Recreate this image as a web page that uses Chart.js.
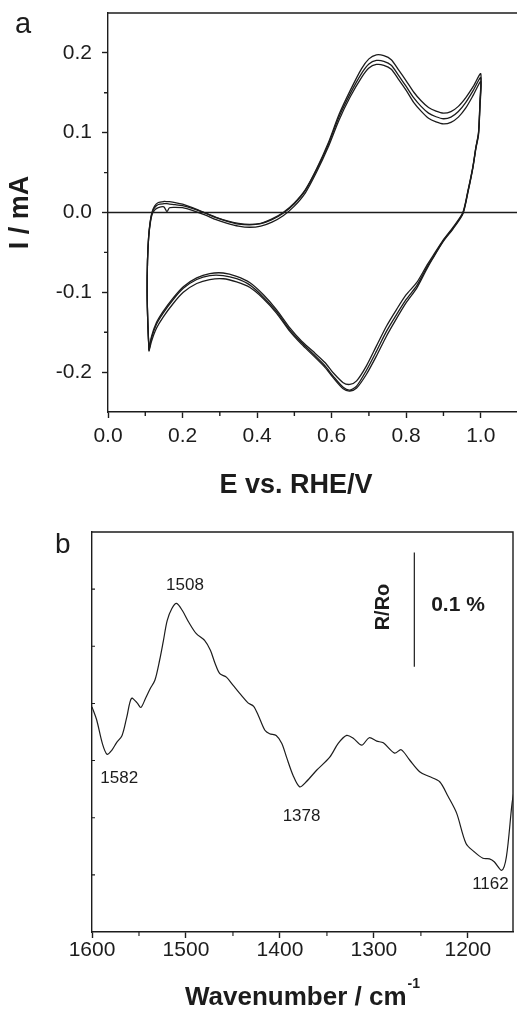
<!DOCTYPE html>
<html><head><meta charset="utf-8">
<script src="https://cdn.jsdelivr.net/npm/chart.js@4.4.1/dist/chart.umd.min.js"></script>
<style>
html,body{margin:0;padding:0;background:#fff;overflow:hidden;width:517px;height:1011px;}
#cv{position:absolute;left:0;top:0;}
#ir{position:absolute;left:0;top:500px;}
</style></head><body>
<canvas id="cv" width="518" height="500"></canvas>
<canvas id="ir" width="517" height="511"></canvas>
<script>
// ---------- (a) cyclic voltammogram: potential program shared by the three cycles ----------
const cvPotential = [
  0.110,0.107,0.105,0.106,0.109,0.113,0.118,0.125,0.135,0.150,0.158,0.165,0.180,0.200,0.230,0.260,
  0.290,0.320,0.350,0.380,0.410,0.440,0.470,0.500,0.530,0.560,0.590,0.620,0.650,0.680,0.700,0.720,
  0.740,0.760,0.780,0.800,0.820,0.840,0.860,0.880,0.900,0.920,0.940,0.960,0.980,1.000,
  0.998,0.994,0.987,0.979,0.966,0.952,0.925,0.900,0.871,0.854,0.828,0.800,0.774,0.747,0.720,0.693,
  0.667,0.649,0.631,0.604,0.582,0.550,0.519,0.488,0.452,0.417,0.381,0.345,0.309,0.273,0.238,0.202,
  0.175,0.148,0.130,0.117,0.110
];
const cvCurrentCycle1 = [
  -0.172,-0.140,-0.100,-0.060,-0.030,-0.012,0.000,0.008,0.0125,0.0138,0.0137,0.0135,0.0125,0.0105,0.0055,-0.0005,
  -0.006,-0.0105,-0.0135,-0.0148,-0.0135,-0.008,0.000,0.012,0.029,0.055,0.086,0.123,0.153,0.180,0.1925,0.1975,
  0.1965,0.1915,0.1785,0.165,0.151,0.140,0.1315,0.127,0.1245,0.1265,0.133,0.144,0.158,0.174,
  0.140,0.100,0.082,0.0575,0.028,0.000,-0.019,-0.034,-0.055,-0.0675,-0.088,-0.103,-0.1216,-0.1425,-0.1675,-0.1925,
  -0.211,-0.2154,-0.2133,-0.2008,-0.188,-0.174,-0.161,-0.1446,-0.1216,-0.103,-0.088,-0.080,-0.0758,-0.0766,-0.082,-0.093,
  -0.107,-0.124,-0.138,-0.155,-0.172
];
const cvCurrentCycle2 = [
  -0.173,-0.141,-0.100,-0.060,-0.031,-0.013,-0.001,0.006,0.010,0.011,0.011,0.0105,0.0098,0.0085,0.0045,-0.0005,
  -0.0065,-0.011,-0.0145,-0.0155,-0.014,-0.009,-0.001,0.011,0.028,0.054,0.084,0.120,0.149,0.174,0.186,0.1905,
  0.1895,0.1845,0.1715,0.158,0.144,0.133,0.1245,0.120,0.1175,0.1195,0.1265,0.138,0.153,0.169,
  0.137,0.099,0.081,0.057,0.027,-0.001,-0.020,-0.035,-0.057,-0.070,-0.092,-0.109,-0.128,-0.149,-0.174,-0.198,
  -0.2175,-0.2225,-0.219,-0.205,-0.192,-0.177,-0.163,-0.147,-0.124,-0.106,-0.091,-0.083,-0.079,-0.079,-0.084,-0.095,
  -0.109,-0.126,-0.140,-0.157,-0.173
];
const cvCurrentCycle3 = [
  -0.174,-0.142,-0.101,-0.061,-0.032,-0.015,-0.003,0.003,0.006,0.007,0.001,0.006,0.0065,0.006,0.002,-0.003,
  -0.009,-0.0135,-0.017,-0.0185,-0.017,-0.012,-0.004,0.008,0.025,0.051,0.081,0.116,0.145,0.169,0.181,0.1855,
  0.1845,0.1795,0.1665,0.153,0.138,0.127,0.118,0.1135,0.111,0.113,0.1195,0.131,0.147,0.164,
  0.133,0.097,0.080,0.056,0.026,-0.002,-0.021,-0.036,-0.058,-0.072,-0.095,-0.113,-0.133,-0.155,-0.180,-0.203,
  -0.220,-0.2237,-0.221,-0.207,-0.194,-0.179,-0.165,-0.149,-0.126,-0.108,-0.094,-0.087,-0.083,-0.084,-0.089,-0.100,
  -0.114,-0.131,-0.145,-0.161,-0.174
];
const cvXTicks = [0, 0.2, 0.4, 0.6, 0.8, 1.0];
const cvXMinorTicks = [0.1, 0.3, 0.5, 0.7, 0.9];
const cvYTicks = [-0.2, -0.1, 0, 0.1, 0.2];
const cvYMinorTicks = [-0.15, -0.05, 0.05, 0.15];

// ---------- (b) IR spectrum ----------
const irWavenumber = [
  1600,1595,1589,1584,1579,1574,1568,1563,1558,1552,1548,1543,1538,1533,1528,1524,1520,1515,1510,1504,
  1497,1489,1480,1474,1469,1464,1457,1450,1441,1434,1428,1423,1416,1411,1404,1398,1393,1386,1379,1372,
  1361,1347,1338,1329,1322,1313,1305,1297,1290,1278,1271,1262,1251,1241,1230,1221,1212,1202,1193,1184,
  1177,1172,1164,1159,1153,1150
];
const irSignal = [
  3.94,3.71,3.30,3.11,3.18,3.31,3.44,3.76,4.09,4.01,3.93,4.09,4.26,4.41,4.76,5.10,5.45,5.66,5.75,5.63,
  5.42,5.22,5.10,4.93,4.70,4.52,4.46,4.32,4.14,4.01,3.95,3.79,3.53,3.47,3.44,3.30,3.06,2.74,2.54,2.63,
  2.83,3.06,3.30,3.44,3.39,3.27,3.40,3.34,3.31,3.13,3.19,3.01,2.80,2.72,2.63,2.37,2.08,1.55,1.40,1.29,
  1.28,1.23,1.08,1.32,2.25,2.55
];
const irXTicks = [1600, 1500, 1400, 1300, 1200];
const irXMinorTicks = [1550, 1450, 1350, 1250];
const irYTicks = [1, 2, 3, 4, 5, 6];
const irPeakLabels = ['1582', '1508', '1378', '1162'];
const irScaleBarLabel = '0.1 %';

// ---------- styling ----------
const INK = '#1c1c1c';
const FONT = '"Liberation Sans", Arial, Helvetica, sans-serif';
const xy = (xs, ys) => xs.map((x, i) => ({x: x, y: ys[i]}));

const cvDecor = {
  id: 'cvDecor',
  beforeDatasetsDraw(chart) {
    const {ctx, chartArea: a, scales: {y}} = chart;
    const py = y.getPixelForValue(0);
    ctx.save();
    ctx.strokeStyle = INK; ctx.lineWidth = 1.3;
    ctx.beginPath(); ctx.moveTo(a.left, py); ctx.lineTo(a.right, py); ctx.stroke();
    ctx.restore();
  },
  afterDraw(chart) {
    const {ctx, chartArea: a, scales: {x, y}} = chart;
    ctx.save();
    ctx.strokeStyle = INK; ctx.lineWidth = 1.4;
    ctx.beginPath(); ctx.moveTo(a.left, a.top); ctx.lineTo(a.right, a.top); ctx.stroke();
    ctx.beginPath();
    cvXMinorTicks.forEach(v => { const p = x.getPixelForValue(v); ctx.moveTo(p, a.bottom); ctx.lineTo(p, a.bottom + 4); });
    cvYMinorTicks.forEach(v => { const p = y.getPixelForValue(v); ctx.moveTo(a.left, p); ctx.lineTo(a.left - 4, p); });
    ctx.stroke();
    ctx.fillStyle = INK;
    ctx.font = '29px ' + FONT; ctx.textAlign = 'left'; ctx.textBaseline = 'alphabetic';
    ctx.fillText('a', 15, 33);
    ctx.font = 'bold 27px ' + FONT; ctx.textAlign = 'center';
    ctx.fillText('E vs. RHE/V', 296, 493);
    ctx.save();
    ctx.translate(21, (a.top + a.bottom) / 2); ctx.rotate(-Math.PI / 2);
    ctx.textBaseline = 'middle'; ctx.fillText('I / mA', 0, 0);
    ctx.restore();
    ctx.restore();
  }
};

const axisCommon = (size) => ({
  grid: {drawOnChartArea: false, drawTicks: true, tickLength: 6, tickColor: INK, tickWidth: 1.4},
  border: {display: true, color: INK, width: 1.4}
});

new Chart(document.getElementById('cv'), {
  type: 'scatter',
  data: {
    datasets: [cvCurrentCycle1, cvCurrentCycle2, cvCurrentCycle3].map((ys, i) => ({
      label: 'cycle ' + (i + 1), data: xy(cvPotential, ys), showLine: true,
      borderColor: INK, borderWidth: 1.3, pointRadius: 0, tension: 0.25, fill: false
    }))
  },
  options: {
    responsive: false, animation: false, devicePixelRatio: 1,
    layout: {padding: {left: 0, top: 13, right: 0, bottom: 0}},
    plugins: {legend: {display: false}, tooltip: {enabled: false}},
    scales: {
      x: Object.assign({
        type: 'linear', position: 'bottom', min: 0, max: 1.1,
        afterBuildTicks: s => { s.ticks = cvXTicks.map(v => ({value: v})); },
        afterFit: s => { s.height = 88; s.paddingLeft = 0; s.paddingRight = 0; },
        ticks: {callback: v => v.toFixed(1), padding: 6, color: INK, font: {family: FONT, size: 21}, maxRotation: 0, autoSkip: false}
      }, axisCommon()),
      y: Object.assign({
        type: 'linear', position: 'left', min: -0.25, max: 0.25,
        afterBuildTicks: s => { s.ticks = cvYTicks.map(v => ({value: v})); },
        afterFit: s => { s.width = 108; s.paddingTop = 0; s.paddingBottom = 0; },
        ticks: {callback: v => v.toFixed(1), padding: 10, color: INK, font: {family: FONT, size: 21}, autoSkip: false}
      }, axisCommon())
    }
  },
  plugins: [cvDecor]
});

const irDecor = {
  id: 'irDecor',
  afterDraw(chart) {
    const {ctx, chartArea: a, scales: {x, y}} = chart;
    ctx.save();
    ctx.strokeStyle = INK; ctx.lineWidth = 1.4;
    ctx.beginPath();
    ctx.moveTo(a.left, a.top); ctx.lineTo(a.right, a.top); ctx.lineTo(a.right, a.bottom);
    ctx.stroke();
    ctx.lineWidth = 1.1;
    ctx.beginPath();
    irXMinorTicks.forEach(v => { const p = x.getPixelForValue(v); ctx.moveTo(p, a.bottom); ctx.lineTo(p, a.bottom + 4); });
    irYTicks.forEach(v => { const p = y.getPixelForValue(v); ctx.moveTo(a.left, p); ctx.lineTo(a.left + 3, p); });
    ctx.stroke();
    // scale bar: 0.1 % = 2 units of the signal axis
    ctx.lineWidth = 1.2;
    const bx = x.getPixelForValue(1257);
    ctx.beginPath(); ctx.moveTo(bx, y.getPixelForValue(4.64)); ctx.lineTo(bx, y.getPixelForValue(6.64)); ctx.stroke();
    ctx.fillStyle = INK;
    // peak labels
    const anchors = [[1571, 2.69], [1501, 6.06], [1377, 2.02], [1176, 0.84]];
    ctx.font = '17px ' + FONT; ctx.textAlign = 'center'; ctx.textBaseline = 'middle';
    irPeakLabels.forEach((t, i) => ctx.fillText(t, x.getPixelForValue(anchors[i][0]), y.getPixelForValue(anchors[i][1])));
    ctx.font = 'bold 21px ' + FONT;
    ctx.fillText(irScaleBarLabel, 458, 105);
    ctx.save();
    ctx.translate(383, 107); ctx.rotate(-Math.PI / 2);
    ctx.font = 'bold 20px ' + FONT; ctx.fillText('R/Ro', 0, 0);
    ctx.restore();
    ctx.font = '28px ' + FONT; ctx.textAlign = 'left'; ctx.textBaseline = 'alphabetic';
    ctx.fillText('b', 55, 53);
    ctx.font = 'bold 26px ' + FONT;
    const main = 'Wavenumber / cm';
    ctx.fillText(main, 185, 505);
    const w = ctx.measureText(main).width;
    ctx.font = 'bold 14px ' + FONT;
    ctx.fillText('-1', 185 + w + 1, 488);
    ctx.restore();
  }
};

new Chart(document.getElementById('ir'), {
  type: 'scatter',
  data: {
    datasets: [{label: 'R/Ro', data: xy(irWavenumber, irSignal), showLine: true,
      borderColor: INK, borderWidth: 1.2, pointRadius: 0, tension: 0.3, fill: false}]
  },
  options: {
    responsive: false, animation: false, devicePixelRatio: 1,
    layout: {padding: {left: 0, top: 32, right: 4, bottom: 0}},
    plugins: {legend: {display: false}, tooltip: {enabled: false}},
    scales: {
      x: Object.assign({
        type: 'linear', position: 'bottom', reverse: true, min: 1152, max: 1600,
        afterBuildTicks: s => { s.ticks = irXTicks.map(v => ({value: v})); },
        afterFit: s => { s.height = 79; s.paddingLeft = 0; s.paddingRight = 0; },
        ticks: {callback: v => String(v), padding: 0, color: INK, font: {family: FONT, size: 21}, maxRotation: 0, autoSkip: false}
      }, axisCommon()),
      y: {
        type: 'linear', position: 'left', min: 0, max: 7,
        afterFit: s => { s.width = 92; s.paddingTop = 0; s.paddingBottom = 0; },
        ticks: {display: false},
        grid: {drawOnChartArea: false, drawTicks: false},
        border: {display: true, color: INK, width: 1.4}
      }
    }
  },
  plugins: [irDecor]
});
</script>
</body></html>
